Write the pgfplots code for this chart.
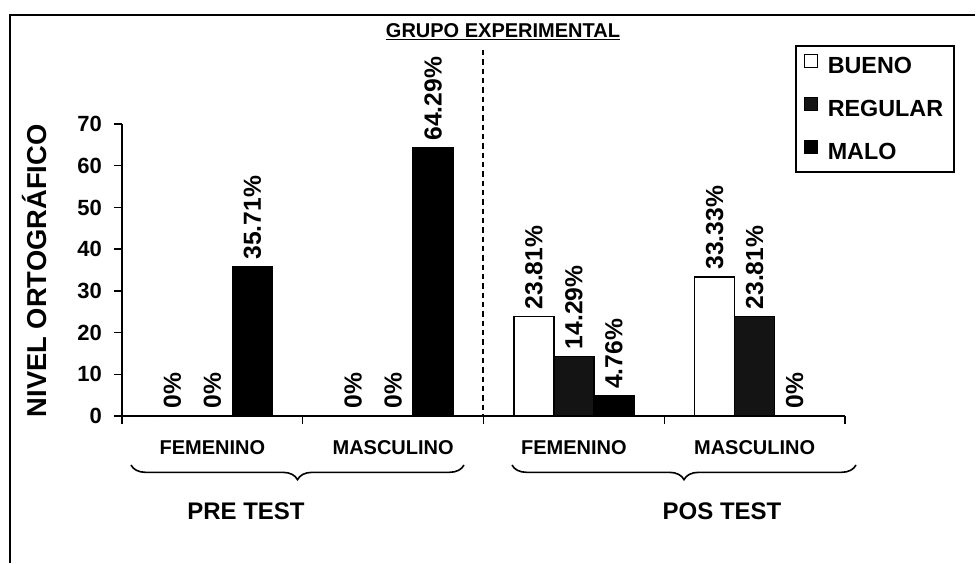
\documentclass[border=0pt]{standalone}
\usepackage{pgfplots}
\pgfplotsset{compat=1.18}
\usepackage{fontspec}
\setmainfont{Liberation Sans}
\usetikzlibrary{decorations.pathreplacing}
\pgfplotsset{/pgf/number format/assume math mode=true}
\begin{document}
\begin{tikzpicture}
\begin{scope}[x=0.75pt,y=-0.75pt]
\path[use as bounding box] (0,0) rectangle (978,563);
\end{scope}
\begin{axis}[
  at={(91.5pt,-312pt)}, anchor=south west,
  scale only axis, width=542.25pt, height=219pt,
  xmin=-0.5, xmax=3.5, ymin=0, ymax=70,
  axis lines=left,
  axis line style={-, line width=1pt},
  ybar=0pt, bar width=30pt,
  ytick={0,10,...,70},
  xtick={-0.5,0.5,1.5,2.5,3.5},
  xticklabels={FEMENINO,MASCULINO,FEMENINO,MASCULINO,{}},
  tick align=outside,
  major tick length=6pt,
  tick style={line width=1pt, black},
  xticklabel style={xshift=67.8pt, yshift=-9pt, font=\bfseries\fontsize{15}{18}\selectfont},
  yticklabel style={font=\bfseries\fontsize{16.5}{20}\selectfont, xshift=-5.5pt},
  nodes near coords={\pgfmathprintnumber[fixed,precision=2]{\pgfplotspointmeta}\%},
  nodes near coords style={rotate=90, anchor=west, inner sep=5pt, font=\bfseries\fontsize{18.5}{22}\selectfont, black},
  legend style={at={(0.931,1.2705)}, anchor=north west, draw=black, line width=1.2pt,
    font=\bfseries\fontsize{17.5}{21}\selectfont, row sep=14pt, inner xsep=6pt, inner ysep=6pt},
  legend cell align=left,
  clip=false,
]
\addplot[fill=white, draw=black, line width=1pt,
  legend image code/.code={\draw[fill=white,draw=black,line width=0.8pt] (0pt,-1pt) rectangle (10pt,9pt);\path (15pt,0pt);}]
  coordinates {(0,0) (1,0) (2,23.81) (3,33.33)};
\addplot[fill=black!92, draw=black, line width=1pt,
  legend image code/.code={\draw[fill=black!92,draw=black,line width=0.8pt] (0pt,-1pt) rectangle (10pt,9pt);\path (15pt,0pt);}]
  coordinates {(0,0) (1,0) (2,14.29) (3,23.81)};
\addplot[fill=black, draw=black, line width=1pt,
  legend image code/.code={\draw[fill=black,draw=black,line width=0.8pt] (0pt,-1pt) rectangle (10pt,9pt);\path (15pt,0pt);}]
  coordinates {(0,35.71) (1,64.29) (2,4.76) (3,0)};
\legend{BUENO,REGULAR,MALO}
\end{axis}
\begin{scope}[x=0.75pt,y=-0.75pt]
\draw[line width=1pt] (10,563) -- (10,15) -- (975,15);
\node[font=\bfseries\fontsize{20.5}{24}\selectfont, rotate=90] at (35,271) {NIVEL ORTOGRÁFICO};
\node[font=\bfseries\fontsize{15}{18}\selectfont] at (503,32) {\underline{GRUPO EXPERIMENTAL}};
\draw[line width=1.2pt, dash pattern=on 4pt off 3pt] (483,50) -- (483,416);
\draw[line width=1.2pt, decorate, decoration={brace, mirror, amplitude=11pt}] (131,465) -- (464,465);
\draw[line width=1.2pt, decorate, decoration={brace, mirror, amplitude=11pt}] (512,465) -- (856,465);
\node[font=\bfseries\fontsize{18}{22}\selectfont] at (246,511) {PRE TEST};
\node[font=\bfseries\fontsize{18}{22}\selectfont] at (722,511) {POS TEST};
\end{scope}
\end{tikzpicture}
\end{document}
